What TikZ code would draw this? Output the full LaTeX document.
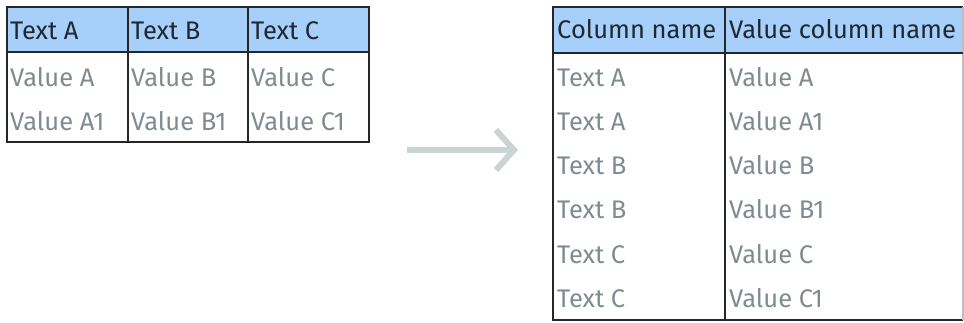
\documentclass[tikz,border=0pt]{standalone}
\usepackage{fontspec}
\setmainfont{Fira Sans}
\usetikzlibrary{arrows.meta}
\definecolor{hdrfill}{RGB}{166,208,250}
\definecolor{hdrtext}{RGB}{30,40,50}
\definecolor{valtext}{RGB}{128,138,145}
\definecolor{arrowc}{RGB}{203,212,210}
\definecolor{edgegray}{RGB}{190,190,190}
\tikzset{
  hdr/.style={anchor=base west, inner sep=0pt, text=hdrtext, font=\fontsize{25.5}{30}\selectfont},
  val/.style={anchor=base west, inner sep=0pt, text=valtext, font=\fontsize{25.5}{30}\selectfont},
  grid/.style={draw=black!85, line width=1.5pt},
}
\begin{document}
\begin{tikzpicture}[x=1pt,y=-1pt]
\useasboundingbox (0,0) rectangle (964,323);
% left table
\fill[hdrfill] (7,7) rectangle (369,52);
\draw[grid] (7,7) rectangle (369,142);
\draw[grid] (7,52) -- (369,52);
\draw[grid] (128,7) -- (128,142);
\draw[grid] (248,7) -- (248,142);
\node[hdr] (ha) at (10,40) {Text A};
\node[hdr] (hb) at (131,40) {Text B};
\node[hdr] (hc) at (251,40) {Text C};
\node[val] (va) at (10,87) {Value A};
\node[val] (vb) at (131,87) {Value B};
\node[val] (vc) at (251,87) {Value C};
\node[val] (va1) at (10,131) {Value A1};
\node[val] (vb1) at (131,131) {Value B1};
\node[val] (vc1) at (251,131) {Value C1};
% right table
\fill[hdrfill] (553,7) rectangle (963,53);
\draw[grid] (963,7) -- (553,7) -- (553,320) -- (963,320);
\draw[edgegray, line width=1.5pt] (963,7) -- (963,320);
\draw[grid] (553,53) -- (963,53);
\draw[grid] (725,7) -- (725,320);
\node[hdr] (hcol) at (557,39) {Column name};
\node[hdr] (hvcol) at (729,39) {Value column name};
\node[val] (r1a) at (557,87) {Text A};
\node[val] (r1b) at (729,87) {Value A};
\node[val] (r2a) at (557,131) {Text A};
\node[val] (r2b) at (729,131) {Value A1};
\node[val] (r3a) at (557,175) {Text B};
\node[val] (r3b) at (729,175) {Value B};
\node[val] (r4a) at (557,219) {Text B};
\node[val] (r4b) at (729,219) {Value B1};
\node[val] (r5a) at (557,263) {Text C};
\node[val] (r5b) at (729,263) {Value C};
\node[val] (r6a) at (557,307) {Text C};
\node[val] (r6b) at (729,307) {Value C1};
% arrow
\coordinate (as) at (407,150);
\coordinate (ae) at (518,150);
\draw[arrowc, line width=6pt, -{Straight Barb[length=18pt,width=40pt,line width=6pt]}] (as) -- (ae);
\end{tikzpicture}
\end{document}
